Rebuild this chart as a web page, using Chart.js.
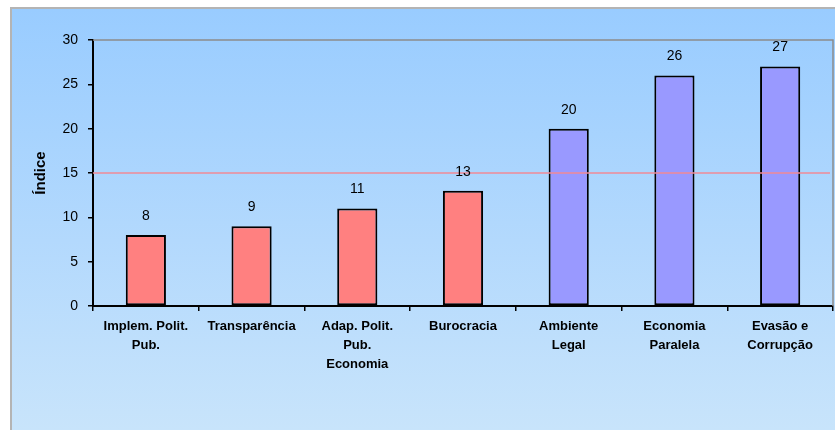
<!DOCTYPE html>
<html>
<head>
<meta charset="utf-8">
<script src="https://cdn.jsdelivr.net/npm/chart.js@4"></script>
<style>
  html, body { margin: 0; padding: 0; background: #ffffff; width: 835px; height: 430px; overflow: hidden; }
  #panel {
    position: absolute; left: 10px; top: 7px; width: 825px; height: 423px;
    background: linear-gradient(to bottom, #99ccff 0%, #b3d9fd 55%, #c8e4fb 100%);
    border-left: 2px solid #b4b4b4; border-top: 2px solid #b4b4b4;
    box-sizing: border-box;
  }
  #wrap { position: absolute; left: 0; top: 0; width: 823px; height: 421px; }
</style>
</head>
<body>
<div id="panel"><div id="wrap"><canvas id="c" width="823" height="421"></canvas></div></div>
<script>
const categories = [
  ["Implem. Polit.", "Pub."],
  "Transparência",
  ["Adap. Polit.", "Pub.", "Economia"],
  "Burocracia",
  ["Ambiente", "Legal"],
  ["Economia", "Paralela"],
  ["Evasão e", "Corrupção"]
];
const values = [8, 9, 11, 13, 20, 26, 27];
const barColors = ["#ff8080", "#ff8080", "#ff8080", "#ff8080", "#9999ff", "#9999ff", "#9999ff"];
const yTicks = [0, 5, 10, 15, 20, 25, 30];
const referenceValue = 15;
const yTitle = "Índice";

const frame = {
  id: 'frame',
  beforeDatasetsDraw(chart) {
    const {ctx, chartArea: a} = chart;
    ctx.save();
    ctx.strokeStyle = '#8c8c8c';
    ctx.lineWidth = 1.5;
    ctx.beginPath();
    ctx.moveTo(a.left, a.top); ctx.lineTo(a.right, a.top); ctx.lineTo(a.right, a.bottom);
    ctx.stroke();
    ctx.restore();
  },
  afterDatasetsDraw(chart) {
    const {ctx, chartArea: a, scales: {y}} = chart;
    ctx.save();
    const yy = y.getPixelForValue(referenceValue);
    ctx.strokeStyle = '#f08a96';
    ctx.lineWidth = 1.5;
    ctx.beginPath();
    ctx.moveTo(a.left, yy); ctx.lineTo(a.right - 3, yy);
    ctx.stroke();
    const meta = chart.getDatasetMeta(0);
    ctx.fillStyle = '#000';
    ctx.font = '14px "Liberation Sans", Arial, sans-serif';
    ctx.textAlign = 'center';
    ctx.textBaseline = 'bottom';
    meta.data.forEach((bar, i) => {
      ctx.fillText(String(values[i]), bar.x, bar.y - 12);
    });
    ctx.restore();
  }
};

new Chart(document.getElementById('c'), {
  type: 'bar',
  data: {
    labels: categories,
    datasets: [{
      data: values,
      backgroundColor: barColors,
      borderColor: '#000000',
      borderWidth: 2,
      borderSkipped: false,
      categoryPercentage: 1.0,
      barPercentage: 0.38
    }]
  },
  options: {
    responsive: false,
    animation: false,
    devicePixelRatio: 1,
    layout: { padding: { top: 31, right: 2, left: 0, bottom: 0 } },
    plugins: { legend: { display: false }, tooltip: { enabled: false } },
    scales: {
      x: {
        afterFit(s) { s.height = 124; },
        grid: { offset: true, drawOnChartArea: false, drawTicks: true, tickLength: 5, color: '#000', lineWidth: 1.5 },
        border: { display: true, color: '#000', width: 2 },
        ticks: {
          color: '#000', maxRotation: 0, minRotation: 0, padding: 6, autoSkip: false,
          font: { family: '"Liberation Sans", Arial, sans-serif', size: 13, weight: 'bold', lineHeight: 1.46 }
        }
      },
      y: {
        min: 0, max: 30,
        afterFit(s) { s.width = 81; },
        afterBuildTicks(s) { s.ticks = yTicks.map(v => ({ value: v })); },
        grid: { drawOnChartArea: false, drawTicks: true, tickLength: 5, color: '#000', lineWidth: 1.5 },
        border: { display: true, color: '#000', width: 2 },
        ticks: { color: '#000', padding: 10, font: { family: '"Liberation Sans", Arial, sans-serif', size: 14 } },
        title: {
          display: true, text: yTitle, color: '#000',
          font: { family: '"Liberation Sans", Arial, sans-serif', size: 15, weight: 'bold' },
          padding: { top: 20, bottom: 0 }
        }
      }
    }
  },
  plugins: [frame]
});
</script>
</body>
</html>
